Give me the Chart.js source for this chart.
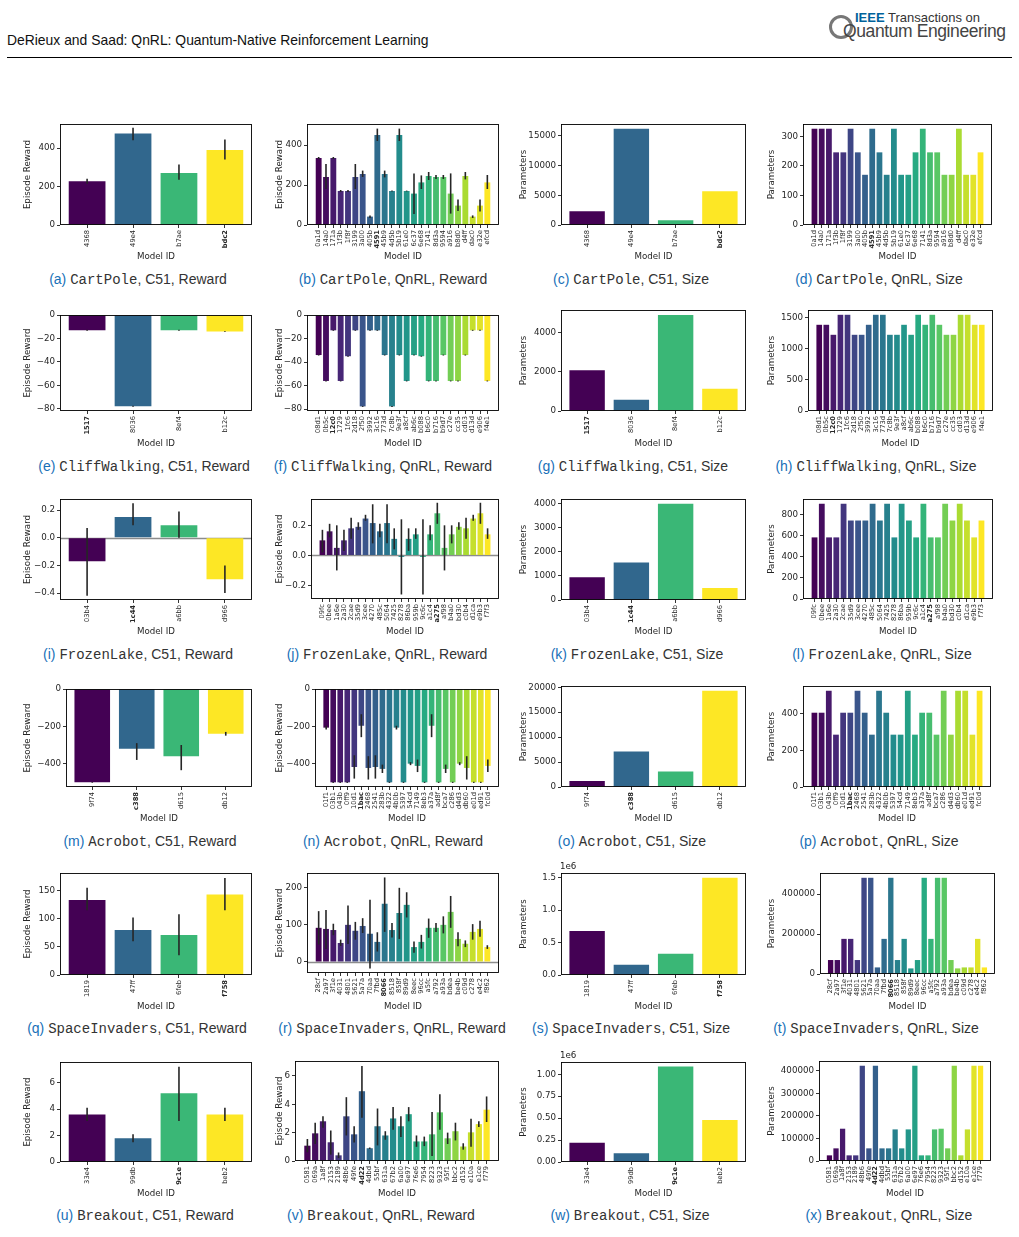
<!DOCTYPE html>
<html lang="en">
<head>
<meta charset="UTF-8">
<title>QnRL | Reward and Size</title>
<script src="https://cdn.jsdelivr.net/npm/chart.js"></script>
<style>
  body { margin: 0; background: #fff; width: 1019px; height: 1237px; position: relative; overflow: hidden;
         font-family: "Liberation Sans", Arial, sans-serif; }
  .header { position: absolute; left: 7px; top: 32px; font-size: 13.9px; color: #111; white-space: nowrap; }
  .rule { position: absolute; left: 7px; top: 57px; width: 1005px; border-top: 1px solid #000; }
  .logo1 { position: absolute; left: 855px; top: 10px; font-size: 13px; color: #333; white-space: nowrap; }
  .logo1 b { color: #00629b; font-weight: bold; }
  .logo2 { position: absolute; left: 843px; top: 21px; font-size: 17.5px; color: #444; letter-spacing: -0.4px; white-space: nowrap; }
  .panel { position: absolute; }
  .cap { position: absolute; transform: translate(-50%, -50%); white-space: nowrap; font-size: 14px; color: #333; }
  .cap .lbl { color: #1770b8; }
  .cap .tt { font-family: "Liberation Mono", "DejaVu Sans Mono", monospace; }
</style>
</head>
<body>
<div class="header">DeRieux and Saad: QnRL: Quantum-Native Reinforcement Learning</div>
<div class="rule"></div>
<svg style="position:absolute;left:828px;top:12px" width="28" height="32">
  <circle cx="13" cy="15" r="10.5" fill="none" stroke="#777" stroke-width="3"/>
</svg>
<div class="logo1"><b>IEEE</b> Transactions on</div>
<div class="logo2">Quantum Engineering</div>
<div id="figs"></div>

<script>
// ---- CartPole ----
const cartpoleC51Ids = ['4368', '49e4', 'b7ae', 'bdc2'];
const cartpoleC51Best = 'bdc2';
const cartpoleC51Reward = [228, 475, 270, 390];
const cartpoleC51RewardLo = [215, 440, 235, 340];
const cartpoleC51RewardHi = [240, 505, 315, 445];
const cartpoleC51Params = [2300, 16200, 800, 5700];
const cartpoleQnrlIds = ['0a1d', '14a0', '171a', '1f3b', '1f8f', '3199', '3a00', '405b', '4591', '45b9', '4d5b', '5b19',
  '61e0', '6c37', '6e68', '7141', '8d3a', '9594', 'a916', 'b8d0', 'd4ff', 'dac0', 'e32e', 'efcd'];
const cartpoleQnrlBest = '4591';
const cartpoleQnrlReward = [335, 240, 335, 170, 170, 240, 255, 42, 450, 255, 170, 450, 170, 157, 213, 245, 240, 240, 157, 97, 245, 42, 97, 213];
const cartpoleQnrlRewardLo = [330, 180, 330, 165, 165, 180, 240, 35, 420, 238, 168, 420, 168, 55, 180, 225, 230, 230, 57, 70, 228, 35, 68, 180];
const cartpoleQnrlRewardHi = [340, 305, 340, 175, 175, 305, 272, 48, 482, 272, 172, 482, 172, 258, 248, 265, 250, 250, 258, 127, 265, 48, 127, 250];
const cartpoleQnrlParams = [326, 326, 326, 246, 246, 326, 246, 170, 326, 246, 170, 326, 170, 170, 246, 326, 246, 246, 170, 170, 326, 170, 170, 246];

// ---- CliffWalking ----
const cliffC51Ids = ['1517', '8036', '8ef4', 'b12c'];
const cliffC51Best = '1517';
const cliffC51Reward = [-13, -78, -13, -14];
const cliffC51RewardLo = [-13.4, -78.4, -13.4, -14.4];
const cliffC51RewardHi = [-12.6, -77.6, -12.6, -13.6];
const cliffC51Params = [2080, 570, 4920, 1140];
const cliffQnrlIds = ['08d1', '0b5c', '12c0', '1729', '1fc6', '2d18', '2f50', '3992', '3c16', '773d', '7c8b', '9e3f',
  'a8cf', 'ab6c', 'b088', 'b6c0', 'b716', 'b9d7', 'c27e', 'cc35', 'cd03', 'd13d', 'e906', 'f4e1'];
const cliffQnrlBest = '12c0';
const cliffQnrlReward = [-34, -56, -13, -56, -35, -13, -77.6, -13, -13, -34, -77.6, -34, -56, -34, -35, -56, -56, -34, -56, -56, -34, -13, -13, -56];
const cliffQnrlRewardLo = [-34.4, -56.4, -13.4, -56.4, -35.4, -13.4, -78, -13.4, -13.4, -34.4, -78, -34.4, -56.4, -34.4, -35.4, -56.4, -56.4, -34.4, -56.4, -56.4, -34.4, -13.4, -13.4, -56.4];
const cliffQnrlRewardHi = [-33.6, -55.6, -12.6, -55.6, -34.6, -12.6, -77.2, -12.6, -12.6, -33.6, -77.2, -33.6, -55.6, -33.6, -34.6, -55.6, -55.6, -33.6, -55.6, -55.6, -33.6, -12.6, -12.6, -55.6];
const cliffQnrlParams = [1387, 1387, 1226, 1548, 1548, 1226, 1226, 1387, 1548, 1548, 1226, 1226, 1387, 1226, 1548, 1387, 1548, 1387, 1226, 1226, 1548, 1548, 1387, 1387];

// ---- FrozenLake ----
const frozenC51Ids = ['03b4', '1c44', 'a6bb', 'd966'];
const frozenC51Best = '1c44';
const frozenC51Reward = [-0.17, 0.15, 0.09, -0.30];
const frozenC51RewardLo = [-0.42, 0.09, 0.0, -0.40];
const frozenC51RewardHi = [0.07, 0.25, 0.19, -0.20];
const frozenC51Params = [950, 1560, 4000, 500];
const frozenQnrlIds = ['09fc', '0bee', '1a6e', '2a30', '2cae', '35d9', '3cee', '4270', '485c', '5064', '7425', '8278',
  '86ba', '959b', '9c6c', 'a1c4', 'a275', 'af98', 'b4a0', 'bd30', 'c0b4', 'd1ca', 'e9b3', 'f7f3'];
const frozenQnrlBest = 'a275';
const frozenQnrlReward = [0.10, 0.16, 0.05, 0.10, 0.18, 0.19, 0.245, 0.215, 0.16, 0.215, 0.11, -0.01, 0.11, 0.14, -0.01, 0.14, 0.28, 0.05, 0.14, 0.19, 0.18, 0.245, 0.28, 0.14];
const frozenQnrlRewardLo = [0.02, 0.12, -0.10, 0.03, 0.11, 0.17, 0.23, 0.08, 0.12, 0.08, 0.04, -0.26, 0.03, 0.11, -0.26, 0.10, 0.21, -0.10, 0.08, 0.17, 0.11, 0.23, 0.21, 0.11];
const frozenQnrlRewardHi = [0.17, 0.21, 0.20, 0.17, 0.25, 0.22, 0.27, 0.34, 0.21, 0.34, 0.18, 0.24, 0.18, 0.18, 0.24, 0.20, 0.35, 0.20, 0.20, 0.22, 0.25, 0.27, 0.35, 0.18];
const frozenQnrlParams = [584, 903, 584, 584, 903, 744, 744, 744, 903, 744, 903, 584, 903, 744, 584, 903, 584, 584, 903, 744, 903, 744, 584, 744];

// ---- Acrobot ----
const acroC51Ids = ['9f74', 'c388', 'd615', 'db12'];
const acroC51Best = 'c388';
const acroC51Reward = [-500, -320, -360, -240];
const acroC51RewardLo = [-502, -380, -435, -250];
const acroC51RewardHi = [-498, -290, -300, -230];
const acroC51Params = [1200, 7100, 3100, 19300];
const acroQnrlIds = ['01f1', '03b1', '043b', '0ff9', '10d1', '1bac', '2468', '2541', '283b', '4322', '4b0b', '5397',
  '54cd', '7149', '8eb3', 'a37a', 'ad8f', 'bca7', 'c286', 'd4d3', 'db60', 'e01d', 'ed91', 'fc0d'];
const acroQnrlBest = '1bac';
const acroQnrlReward = [-207, -500, -500, -500, -418, -197, -423, -418, -428, -500, -207, -500, -400, -412, -500, -197, -500, -428, -500, -400, -423, -500, -500, -412];
const acroQnrlRewardLo = [-217, -503, -503, -503, -480, -258, -485, -480, -450, -503, -217, -503, -408, -445, -503, -258, -503, -450, -503, -408, -485, -503, -503, -445];
const acroQnrlRewardHi = [-197, -497, -497, -497, -355, -135, -360, -355, -405, -497, -197, -497, -392, -378, -497, -135, -497, -405, -497, -392, -360, -497, -497, -378];
const acroQnrlParams = [406, 406, 526, 286, 406, 406, 526, 406, 286, 526, 406, 286, 286, 526, 286, 406, 406, 286, 526, 286, 526, 526, 286, 526];

// ---- SpaceInvaders ----
const spaceC51Ids = ['1819', '47ff', '6feb', 'f758'];
const spaceC51Best = 'f758';
const spaceC51Reward = [133, 80, 71, 143];
const spaceC51RewardLo = [115, 60, 35, 115];
const spaceC51RewardHi = [155, 102, 108, 172];
const spaceC51Params = [680000, 160000, 330000, 1500000];
const spaceQnrlIds = ['28cf', '2a97', '3f1e', '4031', '4801', '5621', '5a7a', '70aa', '7fbd', '8066', '8518', '858f',
  '89d9', '8eec', '96cc', 'a5fc', 'a792', 'a93a', 'bdea', 'be4b', 'c09d', 'c278', 'e4c2', 'f862'];
const spaceQnrlBest = '8066';
const spaceQnrlReward = [92, 89, 86, 51, 100, 84, 97, 76, 54, 157, 86, 132, 154, 40, 54, 92, 92, 100, 135, 62, 49, 81, 89, 40];
const spaceQnrlRewardLo = [47, 35, 72, 43, 48, 60, 78, -18, 28, 81, 66, 62, 120, 25, 36, 65, 81, 77, 92, 42, 40, 60, 68, 35];
const spaceQnrlRewardHi = [137, 140, 103, 60, 152, 108, 118, 168, 80, 228, 105, 200, 188, 55, 73, 117, 105, 123, 178, 80, 58, 102, 111, 45];
const spaceQnrlParams = [70000, 70000, 176000, 176000, 70000, 482000, 482000, 33000, 176000, 482000, 70000, 176000,
  28000, 70000, 482000, 176000, 482000, 482000, 70000, 28000, 33000, 33000, 176000, 33000];

// ---- Breakout ----
const breakC51Ids = ['33e4', '99db', '9c1e', 'beb2'];
const breakC51Best = '9c1e';
const breakC51Reward = [3.6, 1.8, 5.2, 3.6];
const breakC51RewardLo = [3.1, 1.5, 3.1, 3.1];
const breakC51RewardHi = [4.1, 2.1, 7.2, 4.1];
const breakC51Params = [220000, 100000, 1090000, 480000];
const breakQnrlIds = ['0581', '069a', '1a8f', '2153', '2189', '48b6', '49fe', '4d22', '4dbd', '55bf', '631a', '67b2',
  '6a00', '6e97', '76e6', '7954', '8223', '9323', '95f1', 'bbc2', 'd152', 'e10a', 'e1ce', 'f779'];
const breakQnrlBest = '4d22';
const breakQnrlReward = [1.08, 1.95, 2.8, 1.32, 0.4, 3.15, 1.88, 4.92, 0.9, 2.45, 1.8, 3.0, 2.45, 3.3, 1.38, 1.38, 1.88, 3.43, 1.6, 2.1, 1.02, 2.02, 2.6, 3.62];
const breakQnrlRewardLo = [0.62, 1.2, 2.35, 0.45, 0.2, 1.8, 1.3, 3.05, 0.85, 1.1, 1.5, 2.2, 1.7, 2.8, 1.0, 1.05, 0.35, 2.2, 1.2, 1.45, 0.8, 1.0, 2.4, 2.75];
const breakQnrlRewardHi = [1.55, 2.7, 3.15, 2.15, 0.6, 4.5, 2.45, 6.7, 0.95, 3.7, 2.1, 3.8, 3.15, 3.8, 1.8, 1.72, 3.45, 4.7, 2.0, 2.7, 1.25, 2.98, 2.8, 4.55];
const breakQnrlParams = [25000, 56000, 143000, 25000, 25000, 422000, 56000, 422000, 56000, 56000, 140000, 56000,
  140000, 422000, 25000, 25000, 140000, 143000, 56000, 422000, 25000, 140000, 422000, 422000];

// ---- y tick values ----
const ticksA = [0, 200, 400];
const ticksC = [0, 5000, 10000, 15000];
const ticksD = [0, 100, 200, 300];
const ticksCliff = [0, -20, -40, -60, -80];
const ticksG = [0, 2000, 4000];
const ticksH = [0, 500, 1000, 1500];
const ticksI = [-0.4, -0.2, 0.0, 0.2];
const ticksJ = [-0.2, 0.0, 0.2];
const ticksK = [0, 1000, 2000, 3000, 4000];
const ticksL = [0, 200, 400, 600, 800];
const ticksAcro = [0, -200, -400];
const ticksO = [0, 5000, 10000, 15000, 20000];
const ticksP = [0, 200, 400];
const ticksQ = [0, 50, 100, 150];
const ticksR = [0, 100, 200];
const ticksS = [0, 500000, 1000000, 1500000];
const ticksT = [0, 200000, 400000];
const ticksBreak = [0, 2, 4, 6];
const ticksW = [0, 250000, 500000, 750000, 1000000];
const ticksX = [0, 100000, 200000, 300000, 400000];

// box = [plot left, plot top, plot right, plot bottom], ytx = y title centre x, xty = "Model ID" centre y
const panels = [
  { tag: 'a', env: 'CartPole', algo: 'C51', kind: 'Reward', ids: cartpoleC51Ids, best: cartpoleC51Best, vals: cartpoleC51Reward, lo: cartpoleC51RewardLo, hi: cartpoleC51RewardHi, ticks: ticksA, min: 0, max: 525, box: [60, 124, 252, 225], ytx: 28, xty: 257, cap: [138, 279] },
  { tag: 'b', env: 'CartPole', algo: 'QnRL', kind: 'Reward', ids: cartpoleQnrlIds, best: cartpoleQnrlBest, vals: cartpoleQnrlReward, lo: cartpoleQnrlRewardLo, hi: cartpoleQnrlRewardHi, ticks: ticksA, min: 0, max: 505, box: [307, 124, 499, 225], ytx: 280, xty: 257, cap: [393, 279] },
  { tag: 'c', env: 'CartPole', algo: 'C51', kind: 'Size', ids: cartpoleC51Ids, best: cartpoleC51Best, vals: cartpoleC51Params, ticks: ticksC, min: 0, max: 17000, box: [561, 124, 746, 225], ytx: 524, xty: 257, cap: [631, 279] },
  { tag: 'd', env: 'CartPole', algo: 'QnRL', kind: 'Size', ids: cartpoleQnrlIds, best: cartpoleQnrlBest, vals: cartpoleQnrlParams, ticks: ticksD, min: 0, max: 342, box: [803, 124, 992, 225], ytx: 772, xty: 257, cap: [879, 279] },

  { tag: 'e', env: 'CliffWalking', algo: 'C51', kind: 'Reward', ids: cliffC51Ids, best: cliffC51Best, vals: cliffC51Reward, lo: cliffC51RewardLo, hi: cliffC51RewardHi, ticks: ticksCliff, min: -82, max: 0, box: [60, 315, 252, 411], ytx: 28, xty: 444, cap: [144, 466] },
  { tag: 'f', env: 'CliffWalking', algo: 'QnRL', kind: 'Reward', ids: cliffQnrlIds, best: cliffQnrlBest, vals: cliffQnrlReward, lo: cliffQnrlRewardLo, hi: cliffQnrlRewardHi, ticks: ticksCliff, min: -81.5, max: 0, box: [307, 315, 499, 411], ytx: 280, xty: 444, cap: [383, 466] },
  { tag: 'g', env: 'CliffWalking', algo: 'C51', kind: 'Size', ids: cliffC51Ids, best: cliffC51Best, vals: cliffC51Params, ticks: ticksG, min: 0, max: 5170, box: [561, 310, 746, 411], ytx: 524, xty: 444, cap: [633, 466] },
  { tag: 'h', env: 'CliffWalking', algo: 'QnRL', kind: 'Size', ids: cliffQnrlIds, best: cliffQnrlBest, vals: cliffQnrlParams, ticks: ticksH, min: 0, max: 1625, box: [808, 310, 993, 411], ytx: 772, xty: 444, cap: [876, 466] },

  { tag: 'i', env: 'FrozenLake', algo: 'C51', kind: 'Reward', ids: frozenC51Ids, best: frozenC51Best, vals: frozenC51Reward, lo: frozenC51RewardLo, hi: frozenC51RewardHi, ticks: ticksI, min: -0.45, max: 0.28, dec: 1, box: [60, 499, 252, 600], ytx: 28, xty: 632, cap: [138, 654] },
  { tag: 'j', env: 'FrozenLake', algo: 'QnRL', kind: 'Reward', ids: frozenQnrlIds, best: frozenQnrlBest, vals: frozenQnrlReward, lo: frozenQnrlRewardLo, hi: frozenQnrlRewardHi, ticks: ticksJ, min: -0.29, max: 0.375, dec: 1, box: [311, 499, 499, 599], ytx: 280, xty: 632, cap: [387, 654] },
  { tag: 'k', env: 'FrozenLake', algo: 'C51', kind: 'Size', ids: frozenC51Ids, best: frozenC51Best, vals: frozenC51Params, ticks: ticksK, min: 0, max: 4200, box: [561, 499, 746, 600], ytx: 524, xty: 632, cap: [637, 654] },
  { tag: 'l', env: 'FrozenLake', algo: 'QnRL', kind: 'Size', ids: frozenQnrlIds, best: frozenQnrlBest, vals: frozenQnrlParams, ticks: ticksL, min: 0, max: 948, box: [803, 499, 993, 599], ytx: 772, xty: 632, cap: [882, 654] },

  { tag: 'm', env: 'Acrobot', algo: 'C51', kind: 'Reward', ids: acroC51Ids, best: acroC51Best, vals: acroC51Reward, lo: acroC51RewardLo, hi: acroC51RewardHi, ticks: ticksAcro, min: -525, max: 0, box: [66, 689, 252, 787], ytx: 28, xty: 819, cap: [150, 841] },
  { tag: 'n', env: 'Acrobot', algo: 'QnRL', kind: 'Reward', ids: acroQnrlIds, best: acroQnrlBest, vals: acroQnrlReward, lo: acroQnrlRewardLo, hi: acroQnrlRewardHi, ticks: ticksAcro, min: -525, max: 0, box: [315, 689, 499, 787], ytx: 280, xty: 819, cap: [393, 841] },
  { tag: 'o', env: 'Acrobot', algo: 'C51', kind: 'Size', ids: acroC51Ids, best: acroC51Best, vals: acroC51Params, ticks: ticksO, min: 0, max: 20265, box: [561, 686, 746, 787], ytx: 524, xty: 819, cap: [632, 841] },
  { tag: 'p', env: 'Acrobot', algo: 'QnRL', kind: 'Size', ids: acroQnrlIds, best: acroQnrlBest, vals: acroQnrlParams, ticks: ticksP, min: 0, max: 552, box: [803, 686, 991, 787], ytx: 772, xty: 819, cap: [879, 841] },

  { tag: 'q', env: 'SpaceInvaders', algo: 'C51', kind: 'Reward', ids: spaceC51Ids, best: spaceC51Best, vals: spaceC51Reward, lo: spaceC51RewardLo, hi: spaceC51RewardHi, ticks: ticksQ, min: 0, max: 181, box: [60, 873, 252, 975], ytx: 28, xty: 1007, cap: [137, 1028] },
  { tag: 'r', env: 'SpaceInvaders', algo: 'QnRL', kind: 'Reward', ids: spaceQnrlIds, best: spaceQnrlBest, vals: spaceQnrlReward, lo: spaceQnrlRewardLo, hi: spaceQnrlRewardHi, ticks: ticksR, min: -30, max: 240, box: [307, 873, 499, 973], ytx: 280, xty: 1007, cap: [392, 1028] },
  { tag: 's', env: 'SpaceInvaders', algo: 'C51', kind: 'Size', ids: spaceC51Ids, best: spaceC51Best, vals: spaceC51Params, ticks: ticksS, min: 0, max: 1575000, scale: 1e6, dec: 1, box: [561, 873, 746, 975], ytx: 524, xty: 1007, cap: [631, 1028] },
  { tag: 't', env: 'SpaceInvaders', algo: 'QnRL', kind: 'Size', ids: spaceQnrlIds, best: spaceQnrlBest, vals: spaceQnrlParams, ticks: ticksT, min: 0, max: 506000, box: [820, 873, 995, 974], ytx: 772, xty: 1007, cap: [876, 1028] },

  { tag: 'u', env: 'Breakout', algo: 'C51', kind: 'Reward', ids: breakC51Ids, best: breakC51Best, vals: breakC51Reward, lo: breakC51RewardLo, hi: breakC51RewardHi, ticks: ticksBreak, min: 0, max: 7.56, box: [60, 1062, 252, 1162], ytx: 28, xty: 1194, cap: [145, 1215] },
  { tag: 'v', env: 'Breakout', algo: 'QnRL', kind: 'Reward', ids: breakQnrlIds, best: breakQnrlBest, vals: breakQnrlReward, lo: breakQnrlRewardLo, hi: breakQnrlRewardHi, ticks: ticksBreak, min: 0, max: 7.05, box: [295, 1061, 499, 1161], ytx: 280, xty: 1194, cap: [381, 1215] },
  { tag: 'w', env: 'Breakout', algo: 'C51', kind: 'Size', ids: breakC51Ids, best: breakC51Best, vals: breakC51Params, ticks: ticksW, min: 0, max: 1140000, scale: 1e6, dec: 2, box: [561, 1062, 746, 1162], ytx: 524, xty: 1194, cap: [630, 1215] },
  { tag: 'x', env: 'Breakout', algo: 'QnRL', kind: 'Size', ids: breakQnrlIds, best: breakQnrlBest, vals: breakQnrlParams, ticks: ticksX, min: 0, max: 443000, box: [819, 1061, 991, 1161], ytx: 772, xty: 1194, cap: [889, 1215] }
];

// viridis colormap anchors
const viridisStops = [[68, 1, 84], [72, 36, 117], [59, 82, 139], [44, 114, 142], [33, 145, 140],
  [40, 174, 128], [94, 201, 98], [173, 220, 48], [253, 231, 37]];

function viridis(t) {
  const f = t * (viridisStops.length - 1);
  const i = Math.min(Math.floor(f), viridisStops.length - 2);
  const r = f - i;
  const c = viridisStops[i].map((v, k) => Math.round(v + (viridisStops[i + 1][k] - v) * r));
  return `rgb(${c[0]},${c[1]},${c[2]})`;
}

const FONT = '"DejaVu Sans", sans-serif';
const TICK_SIZE = 8.7;
const XTICK_SIZE = 6.7;
const TITLE_SIZE = 8.7;
const HALF = TITLE_SIZE * 1.2 / 2;
const TOP_PAD = 14;

function fmt(v, p) {
  const s = p.scale || 1;
  const txt = Math.abs(v / s).toFixed(p.dec || 0);
  return (v < 0 ? '\u2212' : '') + txt;
}

const figs = document.getElementById('figs');

panels.forEach(function (p) {
  const [pl, pt, pr, pb] = p.box;
  const cl = Math.round(p.ytx - HALF);
  const ct = pt - TOP_PAD;
  const cw = pr + 8 - cl;
  const ch = Math.round(p.xty + HALF) - ct;
  const yW = pl - cl;
  const xH = ct + ch - pb;
  const n = p.ids.length;
  const pad = 0.05 * (n - 0.2);

  const div = document.createElement('div');
  div.className = 'panel';
  div.style.left = cl + 'px';
  div.style.top = ct + 'px';
  const cv = document.createElement('canvas');
  cv.width = cw; cv.height = ch;
  cv.style.width = cw + 'px'; cv.style.height = ch + 'px';
  div.appendChild(cv);
  figs.appendChild(div);

  // caption
  const cap = document.createElement('div');
  cap.className = 'cap';
  cap.style.left = p.cap[0] + 'px';
  cap.style.top = p.cap[1] + 'px';
  cap.innerHTML = `<span class="lbl">(${p.tag})</span> <span class="tt">${p.env}</span>, ${p.algo}, ${p.kind}`;
  figs.appendChild(cap);

  // errorbars, zero line, frame, offset text
  const extras = {
    id: 'extras' + p.tag,
    beforeDatasetsDraw(chart) {
      const ctx = chart.ctx, a = chart.chartArea, y = chart.scales.y;
      if (p.min < 0 && p.max > 0) {
        const y0 = Math.round(y.getPixelForValue(0)) + 0.5;
        ctx.save();
        ctx.strokeStyle = '#8c8c8c';
        ctx.lineWidth = 1.6;
        ctx.beginPath(); ctx.moveTo(a.left, y0); ctx.lineTo(a.right, y0); ctx.stroke();
        ctx.restore();
      }
    },
    afterDatasetsDraw(chart) {
      const ctx = chart.ctx, a = chart.chartArea, y = chart.scales.y;
      const meta = chart.getDatasetMeta(0);
      ctx.save();
      if (p.lo) {
        ctx.strokeStyle = '#262626';
        ctx.lineWidth = 1.6;
        p.lo.forEach(function (lo, i) {
          const x = meta.data[i].x;
          ctx.beginPath();
          ctx.moveTo(x, y.getPixelForValue(lo));
          ctx.lineTo(x, y.getPixelForValue(p.hi[i]));
          ctx.stroke();
        });
      }
      ctx.strokeStyle = '#000';
      ctx.lineWidth = 0.9;
      ctx.strokeRect(a.left + 0.5, a.top + 0.5, a.right - a.left - 1, a.bottom - a.top - 1);
      if (p.scale) {
        ctx.fillStyle = '#222';
        ctx.font = TICK_SIZE + 'px ' + FONT;
        ctx.textAlign = 'left';
        ctx.textBaseline = 'bottom';
        ctx.fillText('1e6', a.left - 1, a.top - 2);
      }
      ctx.restore();
    }
  };

  new Chart(cv, {
    type: 'bar',
    data: {
      datasets: [{
        data: p.vals.map((v, i) => ({ x: i, y: v })),
        backgroundColor: p.ids.map((_, i) => viridis(n === 1 ? 0 : i / (n - 1))),
        borderWidth: 0,
        barPercentage: 0.8,
        categoryPercentage: 1
      }]
    },
    options: {
      responsive: false,
      animation: false,
      events: [],
      layout: { padding: { left: 0, top: TOP_PAD, right: 8, bottom: 0 } },
      plugins: { legend: { display: false }, tooltip: { enabled: false } },
      scales: {
        x: {
          type: 'linear',
          offset: false,
          min: -0.4 - pad,
          max: n - 0.6 + pad,
          afterBuildTicks(s) { s.ticks = p.ids.map((_, i) => ({ value: i })); },
          afterFit(s) { s.height = xH; },
          grid: { display: true, offset: false, drawOnChartArea: false, drawTicks: true, tickLength: 3, color: '#000', lineWidth: 0.8 },
          border: { display: false },
          ticks: {
            autoSkip: false, minRotation: 90, maxRotation: 90, padding: 2, color: '#262626',
            callback: (v, i) => p.ids[i],
            font: (c) => ({ family: FONT, size: XTICK_SIZE, weight: p.ids[c.index] === p.best ? 'bold' : 'normal' })
          },
          title: { display: true, text: 'Model ID', color: '#262626', padding: 0, font: { family: FONT, size: TITLE_SIZE } }
        },
        y: {
          min: p.min,
          max: p.max,
          afterBuildTicks(s) { s.ticks = p.ticks.map(v => ({ value: v })); },
          afterFit(s) { s.width = yW; },
          grid: { display: true, drawOnChartArea: false, drawTicks: true, tickLength: 3, color: '#000', lineWidth: 0.8 },
          border: { display: false },
          ticks: {
            padding: 2, color: '#262626',
            font: { family: FONT, size: TICK_SIZE },
            callback: (v) => fmt(v, p)
          },
          title: {
            display: true, text: p.kind === 'Reward' ? 'Episode Reward' : 'Parameters', color: '#262626', padding: 0,
            font: { family: FONT, size: TITLE_SIZE }
          }
        }
      }
    },
    plugins: [extras]
  });
});
</script>
</body>
</html>
